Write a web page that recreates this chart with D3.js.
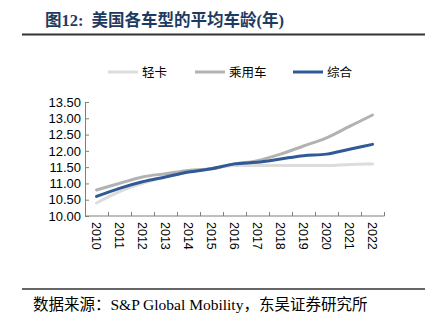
<!DOCTYPE html>
<html lang="zh">
<head>
    <meta charset="UTF-8">
    <title>美国各车型的平均车龄</title>
    <script src="https://cdn.jsdelivr.net/npm/d3@7/dist/d3.min.js"></script>
    <style>
        html, body {
            margin: 0;
            padding: 0;
            background: #fff;
        }

        svg {
            display: block;
            font-family: "Liberation Serif", "Noto Sans CJK SC", serif;
        }

        svg .axis path,
        svg .axis line {
            stroke: #7f7f7f;
        }

        svg .axis text {
            fill: #000;
            font-size: 13px;
        }

        svg .x-axis text {
            font-size: 12.5px;
        }

        svg .series-line {
            fill: none;
            stroke-width: 3px;
            stroke-linecap: round;
        }

        svg .title {
            font-size: 16.5px;
            font-weight: bold;
            fill: #1f3a5f;
        }
    </style>
</head>
<body>
<svg width="435" height="322"></svg>
<script>

    var years = ['2010', '2011', '2012', '2013', '2014', '2015', '2016',
                 '2017', '2018', '2019', '2020', '2021', '2022'];

    var lightTruck = [10.40, 10.75, 11.00, 11.20, 11.35, 11.45, 11.55, 11.55, 11.55, 11.55, 11.55, 11.58, 11.60];
    var passengerCar = [10.80, 11.00, 11.20, 11.30, 11.40, 11.45, 11.60, 11.70, 11.90, 12.15, 12.40, 12.75, 13.10];
    var overall = [10.60, 10.85, 11.05, 11.20, 11.35, 11.45, 11.60, 11.65, 11.75, 11.85, 11.90, 12.05, 12.20];

    var yTicks = [10.0, 10.5, 11.0, 11.5, 12.0, 12.5, 13.0, 13.5];

    var seriesNames = ['轻卡', '乘用车', '综合'];
    var seriesValues = [lightTruck, passengerCar, overall];
    var seriesColors = ['#dcdcdc', '#b2b2b2', '#2f5a96'];

    var svg = d3.select('svg'),
        margin = {
            top: 102,
            left: 85
        },
        chartWidth = 299,
        chartHeight = 114;

    var xScale = d3.scaleBand().domain(years).range([0, chartWidth]),
        yScale = d3.scaleLinear().domain([10, 13.5]).range([chartHeight, 0]);

    // title and rules
    svg.append('text')
        .classed('title', true)
        .attr('x', 45)
        .attr('y', 26)
        .text('图12:');

    svg.append('text')
        .classed('title', true)
        .attr('x', 91.5)
        .attr('y', 26)
        .text('美国各车型的平均车龄(年)');

    svg.append('line')
        .attr('x1', 22).attr('x2', 425)
        .attr('y1', 34.5).attr('y2', 34.5)
        .style('stroke', '#333')
        .style('stroke-width', 2);

    svg.append('line')
        .attr('x1', 22).attr('x2', 425)
        .attr('y1', 289).attr('y2', 289)
        .style('stroke', '#333')
        .style('stroke-width', 1.5);

    svg.append('text')
        .attr('x', 33)
        .attr('y', 310)
        .style('font-size', '15.5px')
        .style('fill', '#000')
        .text('数据来源：S&P Global Mobility，东吴证券研究所');

    // legend
    var legendX = [108, 195, 293];
    var legend = svg.append('g').classed('legend', true);

    seriesNames.forEach(function(name, i) {
        legend.append('line')
            .attr('x1', legendX[i]).attr('x2', legendX[i] + 30)
            .attr('y1', 72).attr('y2', 72)
            .style('stroke', seriesColors[i])
            .style('stroke-width', 3);
        legend.append('text')
            .attr('x', legendX[i] + 34)
            .attr('y', 76.5)
            .style('font-size', '12.5px')
            .text(name);
    });

    var chartGroup = svg.append('g')
                        .classed('chart-group', true)
                        .attr('transform', 'translate(' + [margin.left, margin.top] + ')');

    // x axis: ticks between categories, pointing inward
    var xAxis = d3.axisBottom(xScale).tickSize(0).tickPadding(0);
    var xAxisG = chartGroup.append('g')
        .classed('axis x-axis', true)
        .attr('transform', 'translate(' + [0, chartHeight] + ')')
        .call(xAxis);

    xAxisG.select('.domain').attr('d', 'M0.5,0H' + (chartWidth + 0.5));

    xAxisG.selectAll('.tick text')
        .attr('transform', 'translate(0,6) rotate(90)')
        .attr('dy', '0.35em')
        .attr('x', 0)
        .attr('y', 0)
        .style('text-anchor', 'start');

    xAxisG.selectAll('.boundary')
        .data(d3.range(years.length + 1))
        .enter()
        .append('line')
        .classed('boundary', true)
        .attr('x1', function(d) { return Math.round(d * xScale.step()) + 0.5; })
        .attr('x2', function(d) { return Math.round(d * xScale.step()) + 0.5; })
        .attr('y1', 0)
        .attr('y2', -4);

    // y axis: ticks pointing inward
    var yAxis = d3.axisRight(yScale)
        .tickValues(yTicks)
        .tickSize(4)
        .tickFormat(d3.format('.2f'));

    var yAxisG = chartGroup.append('g')
        .classed('axis y-axis', true)
        .call(yAxis);

    yAxisG.select('.domain').attr('d', 'M0.5,' + chartHeight + 'V0');
    yAxisG.selectAll('.tick text')
        .attr('x', -4)
        .style('text-anchor', 'end');

    // lines
    var lineGene = d3.line()
        .x(function(d, i) { return xScale(years[i]) + xScale.bandwidth() / 2; })
        .y(function(d) { return yScale(d); })
        .curve(d3.curveMonotoneX);

    seriesValues.forEach(function(values, i) {
        chartGroup.append('path')
            .classed('series-line', true)
            .attr('d', lineGene(values))
            .style('stroke', seriesColors[i]);
    });

</script>
</body>
</html>
